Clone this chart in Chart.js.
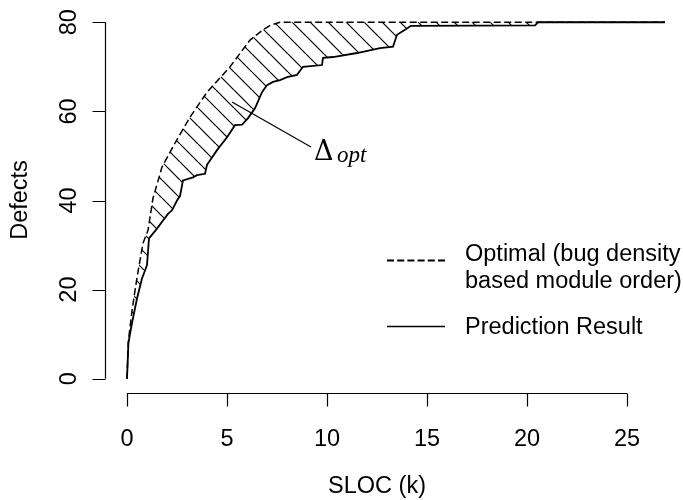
<!DOCTYPE html>
<html><head><meta charset="utf-8">
<script src="https://cdn.jsdelivr.net/npm/chart.js@4.4.0/dist/chart.umd.min.js"></script>
<style>html,body{margin:0;padding:0;background:#fff;}</style>
</head><body>
<canvas id="c" width="683" height="500"></canvas>
<script>
// ---- data ----
const optX  = [0, 0.07, 0.25, 0.5, 0.8, 1.05, 1.3, 1.75, 2.4, 3.15, 4.0, 5.15, 6.15, 6.8, 7.2, 7.65, 26.9];
const optY  = [0, 8.5, 15.3, 22.7, 30.4, 33.3, 40.5, 47.5, 52.9, 58.7, 64.3, 70.0, 76.0, 78.3, 79.4, 80, 80];
const predX = [0, 0.07, 0.25, 0.5, 0.75, 0.9, 1.0, 1.1, 1.5, 1.8, 2.05, 2.25, 2.5, 2.65, 2.8, 3.3, 3.5, 3.9, 4.0, 4.5, 5.0, 5.4, 5.75, 6.05, 6.4, 6.75, 7.0, 7.3, 7.65, 8.0, 8.5, 8.8, 9.75, 9.8, 10.3, 11.5, 12.65, 13.3, 13.5, 13.9, 14.2, 20.4, 20.55, 26.9];
const predY = [0, 8, 12.5, 18, 22.5, 24.3, 25.5, 31.5, 33.7, 35.5, 37, 37.8, 40, 41, 44.5, 45.2, 45.7, 46, 48, 51.3, 54.2, 56.9, 57, 58.5, 60.7, 64.3, 65.9, 66.6, 67, 67.7, 68.2, 70, 70.4, 72, 72.2, 73.1, 74.2, 74.5, 77.2, 78.3, 79.2, 79.3, 80, 80];
const xTicks = [0, 5, 10, 15, 20, 25];
const yTicks = [0, 20, 40, 60, 80];
const xTitle = "SLOC (k)";
const yTitle = "Defects";
const legendOptimal = ["Optimal (bug density", "based module order)"];
const legendPred = "Prediction Result";
const annotFrom = [5.25, 62.1];
const annotTo = [9.2, 52.0];

const FONT = '"Liberation Sans", Arial, Helvetica, sans-serif';
const canvas = document.getElementById('c');
const mainCtx = canvas.getContext('2d');

function makeHatch() {
  const s = 18;
  const t = document.createElement('canvas');
  t.width = s; t.height = s;
  const g = t.getContext('2d');
  g.strokeStyle = '#000';
  g.lineWidth = 1.2;
  for (const o of [-s, 0, s]) {
    g.beginPath(); g.moveTo(o, 0); g.lineTo(o + s, s); g.stroke();
  }
  return mainCtx.createPattern(t, 'repeat');
}

const rAxes = {
  id: 'rAxes',
  afterDraw(chart) {
    const ctx = chart.ctx, xs = chart.scales.x, ys = chart.scales.y, ca = chart.chartArea;
    ctx.save();
    ctx.strokeStyle = '#000'; ctx.fillStyle = '#000'; ctx.lineWidth = 1.2;
    const tick = 13;
    // x axis
    const yb = Math.round(ca.bottom) + 0.5;
    ctx.beginPath();
    ctx.moveTo(xs.getPixelForValue(xTicks[0]), yb);
    ctx.lineTo(xs.getPixelForValue(xTicks[xTicks.length - 1]), yb);
    xTicks.forEach(v => { const p = Math.round(xs.getPixelForValue(v)) + 0.5; ctx.moveTo(p, yb); ctx.lineTo(p, yb + tick); });
    ctx.stroke();
    ctx.font = '23.5px ' + FONT;
    ctx.textAlign = 'center'; ctx.textBaseline = 'alphabetic';
    xTicks.forEach(v => ctx.fillText(String(v), xs.getPixelForValue(v), 446));
    // y axis
    const xl = Math.round(ca.left) + 0.5;
    ctx.beginPath();
    ctx.moveTo(xl, ys.getPixelForValue(yTicks[0]));
    ctx.lineTo(xl, ys.getPixelForValue(yTicks[yTicks.length - 1]));
    yTicks.forEach(v => { const p = Math.round(ys.getPixelForValue(v)) + 0.5; ctx.moveTo(xl, p); ctx.lineTo(xl - tick, p); });
    ctx.stroke();
    yTicks.forEach(v => {
      ctx.save(); ctx.translate(76, ys.getPixelForValue(v)); ctx.rotate(-Math.PI / 2);
      ctx.fillText(String(v), 0, 0); ctx.restore();
    });
    // titles
    ctx.fillText(xTitle, 377, 493);
    ctx.save(); ctx.translate(27, 200); ctx.rotate(-Math.PI / 2); ctx.fillText(yTitle, 0, 0); ctx.restore();
    // legend
    ctx.beginPath(); ctx.lineWidth = 1.8; ctx.setLineDash([7, 3.2]);
    ctx.moveTo(387, 260.5); ctx.lineTo(446, 260.5); ctx.stroke();
    ctx.setLineDash([]); ctx.lineWidth = 1.4;
    ctx.beginPath(); ctx.moveTo(387, 326.5); ctx.lineTo(445, 326.5); ctx.stroke();
    ctx.textAlign = 'left';
    ctx.fillText(legendOptimal[0], 465, 261);
    ctx.fillText(legendOptimal[1], 465, 288);
    ctx.fillText(legendPred, 465, 334);
    // annotation
    const ax0 = xs.getPixelForValue(annotFrom[0]), ay0 = ys.getPixelForValue(annotFrom[1]);
    const ax1 = xs.getPixelForValue(annotTo[0]), ay1 = ys.getPixelForValue(annotTo[1]);
    ctx.beginPath(); ctx.lineWidth = 1.2; ctx.moveTo(ax0, ay0); ctx.lineTo(ax1, ay1); ctx.stroke();
    ctx.font = '27px "DejaVu Serif", "Liberation Serif", serif';
    ctx.fillText('Δ', ax1 + 3, ay1 + 13);
    ctx.font = 'italic 23px "Liberation Serif", "DejaVu Serif", serif';
    ctx.fillText('opt', ax1 + 26, ay1 + 15);
    ctx.restore();
  }
};

new Chart(canvas, {
  type: 'line',
  data: {
    datasets: [
      {
        label: legendPred,
        data: predX.map((x, i) => ({ x, y: predY[i] })),
        borderColor: '#000', borderWidth: 1.8, pointRadius: 0, tension: 0, fill: false
      },
      {
        label: legendOptimal.join(' '),
        data: optX.map((x, i) => ({ x, y: optY[i] })),
        borderColor: '#000', borderWidth: 1.5, borderDash: [7, 3.5], pointRadius: 0, tension: 0,
        fill: { target: 0 }, backgroundColor: makeHatch()
      }
    ]
  },
  options: {
    responsive: false, animation: false, devicePixelRatio: 1,
    layout: { padding: { left: 105, right: 0, top: 8, bottom: 107 } },
    scales: {
      x: { type: 'linear', min: -1.1, max: 27.8, display: false },
      y: { type: 'linear', min: -3.2, max: 83.2, display: false }
    },
    plugins: { legend: { display: false }, tooltip: { enabled: false } }
  },
  plugins: [rAxes]
});
</script>
</body></html>
